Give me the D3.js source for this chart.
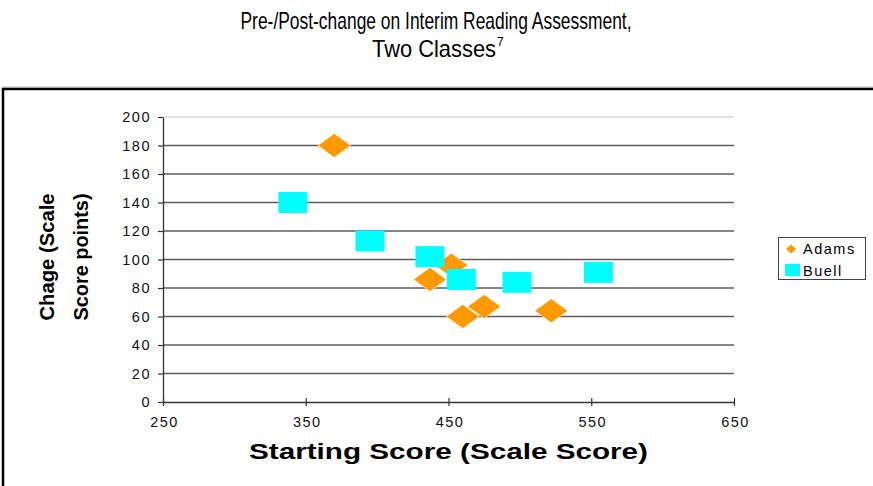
<!DOCTYPE html>
<html>
<head>
<meta charset="utf-8">
<script src="https://cdn.jsdelivr.net/npm/d3@7"></script>
<style>
  body { margin: 0; background: #fff; }
  svg { display: block; }
</style>
</head>
<body>
<div id="chart"></div>
<script>
// data
const seriesNames = ["Adams", "Buell"];
const adamsX = [370, 437, 452, 460, 475, 522];
const adamsY = [180, 86, 96, 60, 67, 64];
const buellX = [341, 395, 437, 459, 498, 555];
const buellY = [140, 113, 102, 86, 84, 91];
const xTicks = [250, 350, 450, 550, 650];
const yTicks = [0, 20, 40, 60, 80, 100, 120, 140, 160, 180, 200];

const width = 873, height = 486;
const margin = {top: 117, right: 139, bottom: 84, left: 163};

const svg = d3.select("#chart").append("svg")
    .attr("width", width)
    .attr("height", height);

const x = d3.scaleLinear().domain([250, 650]).range([margin.left, width - margin.right]);
const y = d3.scaleLinear().domain([0, 200]).range([height - margin.bottom, margin.top]);

// title
const title = svg.append("g")
    .attr("font-family", "'Liberation Sans Narrow', 'Liberation Sans', Arial, sans-serif")
    .attr("font-size", 24)
    .attr("fill", "#000")
    .attr("text-anchor", "middle");
title.append("text")
    .attr("x", 436).attr("y", 29)
    .attr("textLength", 391).attr("lengthAdjust", "spacingAndGlyphs")
    .text("Pre-/Post-change on Interim Reading Assessment,");
title.append("text")
    .attr("x", 434).attr("y", 57)
    .attr("textLength", 124).attr("lengthAdjust", "spacingAndGlyphs")
    .text("Two Classes");
title.append("text")
    .attr("x", 497).attr("y", 46)
    .attr("text-anchor", "start")
    .attr("font-size", 12)
    .text("7");

// outer chart frame
svg.append("line")
    .attr("x1", 2).attr("x2", width).attr("y1", 87).attr("y2", 87)
    .attr("stroke", "#bbb").attr("stroke-width", 1);
svg.append("rect")
    .attr("x", 3).attr("y", 89)
    .attr("width", width + 10).attr("height", 420)
    .attr("fill", "none")
    .attr("stroke", "#000")
    .attr("stroke-width", 2.5);

// gridlines
svg.append("g")
  .selectAll("line")
  .data(yTicks.filter(d => d > 0))
  .join("line")
    .attr("x1", x(250)).attr("x2", x(650))
    .attr("y1", d => y(d)).attr("y2", d => y(d))
    .attr("stroke", d => d === 200 ? "#d9d9d9" : "#5e5e5e")
    .attr("stroke-width", d => d === 200 ? 1.5 : 1.3);

// axes
const tickFont = "'Liberation Sans', Arial, sans-serif";

const yAxis = svg.append("g")
    .attr("transform", `translate(${margin.left},0)`)
    .call(d3.axisLeft(y).tickValues(yTicks).tickSize(5).tickPadding(7).tickSizeOuter(0));
const xAxis = svg.append("g")
    .attr("transform", `translate(0,${height - margin.bottom})`)
    .call(d3.axisBottom(x).tickValues(xTicks).tickSize(4).tickPadding(11).tickSizeOuter(0));

[xAxis, yAxis].forEach(g => {
  g.select(".domain").attr("stroke", "#333").attr("stroke-width", 1.3);
  g.selectAll(".tick line").attr("stroke", "#333").attr("stroke-width", 1.2);
  g.selectAll("text")
    .attr("font-family", tickFont)
    .attr("font-size", 14.5)
    .attr("fill", "#111")
    .style("letter-spacing", "1.5px");
});
xAxis.selectAll(".tick line").attr("y1", -4);
xAxis.selectAll("text").attr("dx", "1px");

// axis titles
svg.append("text")
    .attr("x", x(450)).attr("y", 459)
    .attr("text-anchor", "middle")
    .attr("font-family", "'Liberation Sans', Arial, sans-serif")
    .attr("font-weight", "bold")
    .attr("font-size", 22)
    .attr("textLength", 399).attr("lengthAdjust", "spacingAndGlyphs")
    .text("Starting Score (Scale Score)");

const yTitle = svg.append("g")
    .attr("font-family", "'Liberation Sans', Arial, sans-serif")
    .attr("font-weight", "bold")
    .attr("font-size", 20)
    .attr("text-anchor", "middle");
[["Chage (Scale", 54], ["Score points)", 88]].forEach(([txt, bx]) => {
  yTitle.append("text")
    .attr("transform", `translate(${bx},257) rotate(-90)`)
    .attr("textLength", 127).attr("lengthAdjust", "spacingAndGlyphs")
    .text(txt);
});

// points
const adams = adamsX.map((v, i) => ({x: v, y: adamsY[i]}));
const buell = buellX.map((v, i) => ({x: v, y: buellY[i]}));

const diamond = (cx, cy, w, h) =>
  `M${cx},${cy - h / 2}L${cx + w / 2},${cy}L${cx},${cy + h / 2}L${cx - w / 2},${cy}Z`;

svg.append("g")
  .selectAll("path")
  .data(adams)
  .join("path")
    .attr("d", d => diamond(x(d.x), y(d.y), 33, 24))
    .attr("fill", "#ff9900")
    .attr("stroke", "#fff")
    .attr("stroke-width", 0.6);

svg.append("g")
  .selectAll("rect")
  .data(buell)
  .join("rect")
    .attr("x", d => x(d.x) - 14.5)
    .attr("y", d => y(d.y) - 10.5)
    .attr("width", 29)
    .attr("height", 21)
    .attr("fill", "#00ffff");

// legend
const legend = svg.append("g");
legend.append("rect")
    .attr("x", 778.5).attr("y", 237.5)
    .attr("width", 87).attr("height", 42)
    .attr("fill", "#fff")
    .attr("stroke", "#444")
    .attr("stroke-width", 1);
legend.append("path")
    .attr("d", diamond(791, 249, 10, 9))
    .attr("fill", "#ff9900");
legend.append("rect")
    .attr("x", 785).attr("y", 264)
    .attr("width", 15).attr("height", 12)
    .attr("fill", "#00ffff");
legend.selectAll("text")
  .data(seriesNames)
  .join("text")
    .attr("x", 803)
    .attr("y", (d, i) => 254 + i * 22)
    .attr("font-family", tickFont)
    .attr("font-size", 14.5)
    .style("letter-spacing", "1.5px")
    .text(d => d);
</script>
</body>
</html>
